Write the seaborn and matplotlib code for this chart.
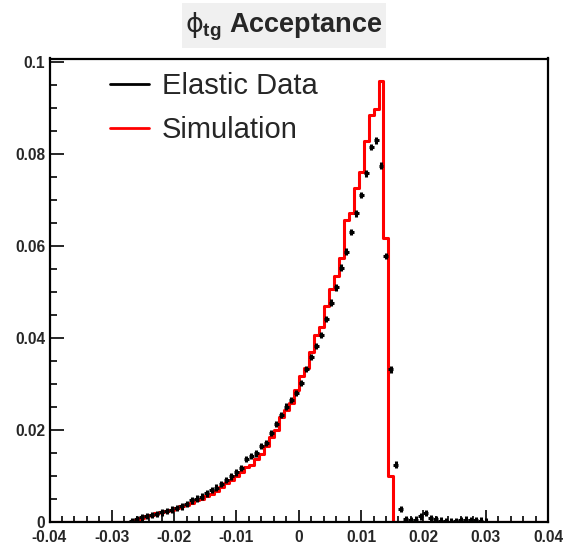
import numpy as np
import pandas as pd
import matplotlib
matplotlib.use("Agg")
import matplotlib.pyplot as plt
from matplotlib.lines import Line2D
from matplotlib.patches import Rectangle
from matplotlib.ticker import MultipleLocator, FuncFormatter
import seaborn as sns

# ---- data (100 bins from -0.04 to 0.04) ----
n_bins = 100
x_range = (-0.04, 0.04)
sim_first_bin = 16
sim_values = [0.0, 0.0005, 0.0009, 0.0013, 0.0016, 0.0019, 0.0021, 0.0024, 0.0027, 0.0030,
              0.0034, 0.0038, 0.0042, 0.0047, 0.0051, 0.0056, 0.0061, 0.0068, 0.0076, 0.0084,
              0.0091, 0.0100, 0.0109, 0.0119, 0.0125, 0.0136, 0.0148, 0.0165, 0.0185, 0.0200,
              0.0229, 0.0243, 0.0258, 0.0286, 0.0317, 0.0334, 0.0370, 0.0407, 0.0425, 0.0470,
              0.0506, 0.0535, 0.0574, 0.0656, 0.0672, 0.0727, 0.0762, 0.0829, 0.0886, 0.0899,
              0.0959, 0.0617, 0.0100]
data_first_bin = 16
data_values = [0.0002, 0.0006, 0.0010, 0.0013, 0.0015, 0.0018, 0.0021, 0.0024, 0.0027, 0.0030,
               0.0034, 0.0039, 0.0047, 0.0051, 0.0055, 0.0062, 0.0070, 0.0075, 0.0083, 0.0091,
               0.0099, 0.0108, 0.0118, 0.0137, 0.0143, 0.0149, 0.0165, 0.0172, 0.0194, 0.0213,
               0.0233, 0.0251, 0.0265, 0.0281, 0.0302, 0.0333, 0.0359, 0.0383, 0.0407, 0.0441,
               0.0477, 0.0510, 0.0553, 0.0588, 0.0631, 0.0671, 0.0711, 0.0758, 0.0815, 0.0830,
               0.0775, 0.0579, 0.0332, 0.0125, 0.0028, 0.0006, 0.0004, 0.0005, 0.0012, 0.0019,
               0.0008, 0.0007, 0.0003, 0.0002, 0.0001, 0.0002, 0.0004, 0.0005, 0.0004, 0.0004,
               0.0003, 0.0001]
data_err = 0.0007
legend_labels = ["Elastic Data", "Simulation"]
title_text = r"$\phi_{\mathbf{tg}}$ Acceptance"

# ---- derived tables ----
edges = np.linspace(x_range[0], x_range[1], n_bins + 1)
centers = 0.5 * (edges[:-1] + edges[1:])
width = edges[1] - edges[0]
sim_df = pd.DataFrame({"x": centers[sim_first_bin:sim_first_bin + len(sim_values)],
                       "w": sim_values})
data_df = pd.DataFrame({"x": centers[data_first_bin:data_first_bin + len(data_values)],
                        "y": data_values})

sns.set_style("ticks")
plt.rcParams["font.family"] = ["Liberation Sans", "DejaVu Sans"]
plt.rcParams["mathtext.fontset"] = "custom"
plt.rcParams["mathtext.rm"] = "Liberation Sans"
plt.rcParams["mathtext.it"] = "DejaVu Sans"
plt.rcParams["mathtext.bf"] = "Liberation Sans:bold"

W, H = 564, 545
fig = plt.figure(figsize=(W / 100, H / 100), dpi=100)
L, R, T, B = 49.5, 548, 58.5, 522
ax = fig.add_axes([L / W, 1 - B / H, (R - L) / W, (B - T) / H])

sns.histplot(data=sim_df, x="x", weights="w", bins=n_bins, binrange=x_range,
             element="step", fill=False, color="#ff0000", linewidth=2.2, ax=ax)

ax.errorbar(data_df["x"], data_df["y"], xerr=width / 2, yerr=data_err,
            fmt="none", ecolor="black", elinewidth=2.2, capsize=0, zorder=3)

ax.set_xlim(*x_range)
ax.set_ylim(0, 0.1008)
ax.set_xlabel("")
ax.set_ylabel("")

for s in ax.spines.values():
    s.set_linewidth(1.6)
    s.set_color("black")
    s.set_zorder(5)

ax.xaxis.set_major_locator(MultipleLocator(0.01))
ax.xaxis.set_minor_locator(MultipleLocator(0.002))
ax.yaxis.set_major_locator(MultipleLocator(0.02))
ax.yaxis.set_minor_locator(MultipleLocator(0.005))
fmt = FuncFormatter(lambda v, p: "%g" % round(v, 4))
ax.xaxis.set_major_formatter(fmt)
ax.yaxis.set_major_formatter(fmt)
ax.tick_params(axis="x", which="major", direction="in", length=9, width=1.4, pad=6,
               labelsize=11.2, top=False)
ax.tick_params(axis="x", which="minor", direction="in", length=4.5, width=1.4, top=False)
ax.tick_params(axis="y", which="major", direction="in", length=10, width=1.4, pad=3,
               labelsize=11.2, right=False)
ax.tick_params(axis="y", which="minor", direction="in", length=5, width=1.4, right=False)
for lab in ax.get_xticklabels() + ax.get_yticklabels():
    lab.set_fontweight("bold")

handles = [Line2D([], [], color="black", lw=2.0), Line2D([], [], color="#ff0000", lw=2.0)]
ax.legend(handles, legend_labels, loc="upper left", frameon=False, fontsize=21,
          handlelength=1.35, handletextpad=0.42, labelspacing=0.55, borderpad=0,
          borderaxespad=0, bbox_to_anchor=(110 / W, 1 - 72 / H),
          bbox_transform=fig.transFigure)

fig.patches.append(Rectangle((182 / W, 1 - 48 / H), 204 / W, 45 / H,
                             transform=fig.transFigure, facecolor="#f0f0f0",
                             edgecolor="none", zorder=0))
fig.text(284 / W, 1 - 27 / H, title_text, ha="center", va="center",
         fontsize=19.5, fontweight="bold")

fig.savefig("out.png", dpi=100)
